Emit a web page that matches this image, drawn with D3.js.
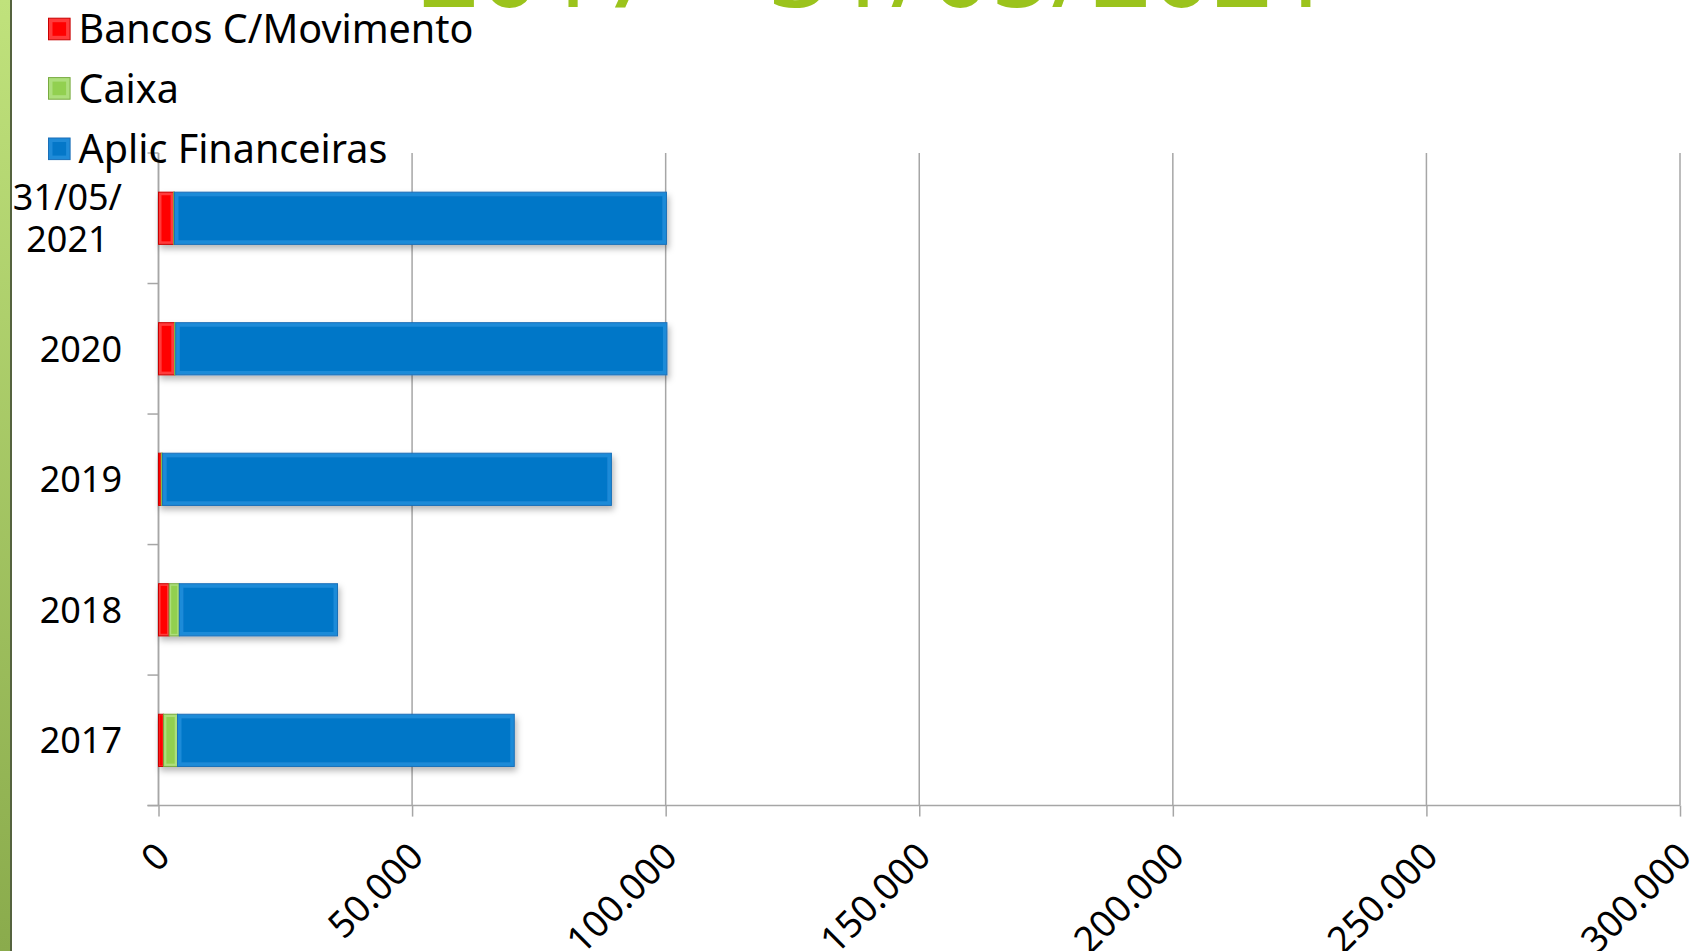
<!DOCTYPE html>
<html>
<head>
<meta charset="utf-8">
<script src="https://cdn.jsdelivr.net/npm/d3@7/dist/d3.min.js"></script>
<style>
  html, body { margin:0; padding:0; background:#fff; overflow:hidden; }
  text { font-family: "Noto Sans", "Liberation Sans", sans-serif; fill:#000; }
</style>
</head>
<body>
<div id="chart"></div>
<script>
// Data
var categories = ["31/05/2021", "2020", "2019", "2018", "2017"];
var categoryLabels = [["31/05/", "2021"], ["2020"], ["2019"], ["2018"], ["2017"]];
var bancos = [3000, 3150, 550, 2100, 1000];
var caixa = [150, 250, 250, 2000, 2750];
var aplic = [97000, 96850, 88500, 31200, 66400];
var seriesNames = ["Bancos C/Movimento", "Caixa", "Aplic Financeiras"];
var xTicks = [0, 50000, 100000, 150000, 200000, 250000, 300000];
var titleText = "2017 – 31/05/2021";

var W = 1691, H = 951;
var margin = { left:158.5, right:11, top:153, bottom:145.4 };
var width = W - margin.left - margin.right,
    height = H - margin.top - margin.bottom;

var palette = {
  main:  ["#ff0000", "#92d050", "#0477c8"],
  light: ["#ff3a3a", "#addf7c", "#1f8bd8"],
  edge:  ["#c80000", "#78aa40", "#1a6fb8"]
};

var svgRoot = d3.select("#chart")
  .append("svg")
    .attr("width", W)
    .attr("height", H);

var defs = svgRoot.append("defs");
var grad = defs.append("linearGradient")
    .attr("id", "strip")
    .attr("x1", 0).attr("y1", 0).attr("x2", 0).attr("y2", 1);
grad.append("stop").attr("offset", "0%").attr("stop-color", "#c0e27c");
grad.append("stop").attr("offset", "100%").attr("stop-color", "#8aab4c");

var shadow = defs.append("filter")
    .attr("id", "shadow")
    .attr("x", "-10%").attr("y", "-30%")
    .attr("width", "130%").attr("height", "180%");
shadow.append("feDropShadow")
    .attr("dx", 2).attr("dy", 4)
    .attr("stdDeviation", 3)
    .attr("flood-color", "#000")
    .attr("flood-opacity", 0.28);

// left decoration
svgRoot.append("rect")
    .attr("x", 0).attr("y", 0)
    .attr("width", 11).attr("height", H)
    .attr("fill", "url(#strip)");
svgRoot.append("line")
    .attr("x1", 11).attr("x2", 11)
    .attr("y1", 0).attr("y2", H)
    .attr("stroke", "#55633f")
    .attr("stroke-width", 2);

// title (mostly out of view at top)
svgRoot.append("text")
    .attr("x", 876)
    .attr("y", 7)
    .attr("text-anchor", "middle")
    .attr("font-size", "106px")
    .style("fill", "#9bc31c")
    .text(titleText);

var svg = svgRoot.append("g")
    .attr("transform", "translate(" + margin.left + "," + margin.top + ")");

// X Scale
var x = d3.scaleLinear()
    .domain([0, 300000])
    .range([0, width]);

// Y Scale
var y = d3.scaleBand()
    .domain(categories)
    .range([0, height])
    .paddingInner(0.6)
    .paddingOuter(0.3);

// gridlines
svg.append("g")
    .selectAll("line")
    .data(xTicks)
    .enter()
    .append("line")
      .attr("x1", function(d){ return x(d); })
      .attr("x2", function(d){ return x(d); })
      .attr("y1", 0)
      .attr("y2", height)
      .attr("stroke", "#a6a6a6")
      .attr("stroke-width", 1.5);

// X Axis
var fmt = function(d){ return d3.format(",")(d).replace(/,/g, "."); };
var xAxisGroup = svg.append("g")
    .attr("transform", "translate(0," + height + ")")
    .call(d3.axisBottom(x).tickValues(xTicks).tickSize(11).tickSizeOuter(0).tickFormat(fmt));
xAxisGroup.select(".domain").remove();
xAxisGroup.selectAll(".tick line")
    .attr("stroke", "#a6a6a6")
    .attr("stroke-width", 1.5);
xAxisGroup.selectAll(".tick text")
    .attr("y", 0).attr("dy", 0)
    .attr("text-anchor", "end")
    .attr("transform", "translate(13,53) rotate(-45)")
    .attr("font-size", "37px")
    .style("font-family", "'Noto Sans', sans-serif");

svg.append("line")
    .attr("x1", -11).attr("x2", width)
    .attr("y1", height).attr("y2", height)
    .attr("stroke", "#a6a6a6")
    .attr("stroke-width", 1.5);

// Y Axis
svg.append("line")
    .attr("x1", 0).attr("x2", 0)
    .attr("y1", 0).attr("y2", height)
    .attr("stroke", "#a6a6a6")
    .attr("stroke-width", 1.5);

var boundaries = d3.range(categories.length + 1);
svg.append("g")
    .selectAll("line")
    .data(boundaries)
    .enter()
    .append("line")
      .attr("x1", -11).attr("x2", 0)
      .attr("y1", function(i){ return i * y.step(); })
      .attr("y2", function(i){ return i * y.step(); })
      .attr("stroke", "#a6a6a6")
      .attr("stroke-width", 1.5);

var labelRight = -36.5;
var catLabels = svg.append("g")
    .selectAll("text")
    .data(categories)
    .enter()
    .append("text")
      .attr("font-size", "36px")
      .attr("text-anchor", "middle");

catLabels.each(function(c, i) {
  var lines = categoryLabels[i];
  var t = d3.select(this);
  var cy = y(c) + y.bandwidth() / 2;
  var lh = 42;
  lines.forEach(function(l, j) {
    t.append("tspan")
      .attr("y", cy + (j - (lines.length - 1) / 2) * lh)
      .attr("dy", "0.36em")
      .text(l);
  });
  var maxW = 0;
  t.selectAll("tspan").each(function(){ maxW = Math.max(maxW, this.getComputedTextLength()); });
  t.selectAll("tspan").attr("x", labelRight - maxW / 2);
});

// stacked bars
var table = categories.map(function(c, i) {
  return { cat:c, s0:bancos[i], s1:caixa[i], s2:aplic[i] };
});
var stacked = d3.stack().keys(["s0", "s1", "s2"])(table);

function drawBlock(g, x0, y0, w, h, k) {
  if (w <= 0) return;
  var inset = Math.min(4, w * 0.2);
  g.append("rect")
    .attr("x", x0).attr("y", y0)
    .attr("width", w).attr("height", h)
    .attr("fill", palette.light[k])
    .attr("stroke", palette.edge[k])
    .attr("stroke-width", 1);
  g.append("rect")
    .attr("x", x0 + inset).attr("y", y0 + inset)
    .attr("width", Math.max(0, w - 2 * inset)).attr("height", h - 2 * inset)
    .attr("fill", palette.main[k]);
}

var barsGroup = svg.append("g").attr("filter", "url(#shadow)");
stacked.forEach(function(layer, k) {
  layer.forEach(function(d) {
    var g = barsGroup.append("g");
    drawBlock(g, x(d[0]), y(d.data.cat), x(d[1]) - x(d[0]), y.bandwidth(), k);
  });
});

// legend
var legendY = [29, 88.4, 148.8];
var legend = svgRoot.append("g")
    .selectAll("g")
    .data(seriesNames)
    .enter()
    .append("g")
      .attr("transform", function(d, i){ return "translate(48.5," + legendY[i] + ")"; });

legend.each(function(d, k) {
  drawBlock(d3.select(this), 0, -10.8, 21.6, 21.6, k);
});
legend.append("text")
    .attr("x", 30)
    .attr("dy", "0.36em")
    .attr("font-size", "39.5px")
    .text(function(d){ return d; });
</script>
</body>
</html>
